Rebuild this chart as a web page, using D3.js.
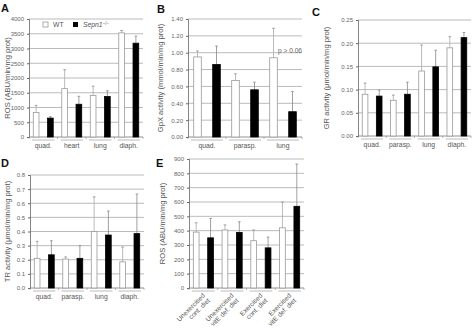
<!DOCTYPE html>
<html>
<head>
<meta charset="utf-8">
<script src="https://cdn.jsdelivr.net/npm/d3@7"></script>
<style>
  body { margin: 0; background: #fff; }
  svg { font-family: "Liberation Sans", Arial, sans-serif; }
</style>
</head>
<body>
<div id="container"></div>
<script>
let w = 472;
let h = 335;

// data
let groupsA = ["quad.", "heart", "lung", "diaph."];
let wtA = [830, 1640, 1410, 3530];
let wtErrA = [240, 640, 310, 80];
let koA = [640, 1110, 1370, 3180];
let koErrA = [50, 270, 200, 240];
let ticksA = [0, 500, 1000, 1500, 2000, 2500, 3000, 3500, 4000];

let groupsB = ["quad.", "parasp.", "lung"];
let wtB = [0.95, 0.67, 0.94];
let wtErrB = [0.07, 0.08, 0.35];
let koB = [0.86, 0.56, 0.30];
let koErrB = [0.22, 0.09, 0.24];
let ticksB = [0, 0.2, 0.4, 0.6, 0.8, 1.0, 1.2, 1.4];

let groupsC = ["quad.", "parasp.", "lung", "diaph."];
let wtC = [0.090, 0.077, 0.140, 0.190];
let wtErrC = [0.024, 0.011, 0.056, 0.024];
let koC = [0.086, 0.090, 0.149, 0.212];
let koErrC = [0.013, 0.026, 0.036, 0.011];
let ticksC = [0, 0.05, 0.10, 0.15, 0.20, 0.25];

let groupsD = ["quad.", "parasp.", "lung", "diaph."];
let wtD = [0.21, 0.205, 0.40, 0.185];
let wtErrD = [0.12, 0.015, 0.245, 0.105];
let koD = [0.235, 0.21, 0.375, 0.385];
let koErrD = [0.10, 0.09, 0.17, 0.28];
let ticksD = [0, 0.1, 0.2, 0.3, 0.4, 0.5, 0.6, 0.7, 0.8];

let groupsE = [["Unexercised", "cont. diet"], ["Unexercised", "vitE def. diet"], ["Exercised", "cont. diet"], ["Exercised", "vitE def. diet"]];
let wtE = [390, 405, 330, 420];
let wtErrE = [65, 35, 75, 180];
let koE = [350, 388, 280, 570];
let koErrE = [135, 74, 75, 295];
let ticksE = [0, 100, 200, 300, 400, 500, 600, 700, 800, 900];

let svg = d3.select("#container").append("svg")
    .attr("width", w)
    .attr("height", h);

function drawPanel(p) {
    let g = svg.append("g");
    let n = p.groups.length;
    let x = d3.scaleBand().domain(d3.range(n)).range([p.x0, p.x1]);
    let inner = d3.scaleBand().domain(["WT", "KO"]).range([0, x.bandwidth()])
        .paddingInner(0.6).paddingOuter(0.3);
    let y = d3.scaleLinear().domain([0, p.max]).range([p.yb, p.yt]);

    // gridlines
    g.selectAll(".grid").data(p.ticks).enter().append("line")
        .attr("x1", p.x0).attr("x2", p.x1)
        .attr("y1", d => y(d)).attr("y2", d => y(d))
        .attr("stroke", d => d === 0 ? "#777" : "#aaa")
        .attr("stroke-width", 0.8);

    // y axis
    let axis = g.append("g").attr("transform", `translate(${p.x0},0)`)
        .call(d3.axisLeft(y).tickValues(p.ticks).tickFormat(d3.format(p.fmt)).tickSize(2).tickPadding(3));
    axis.select(".domain").attr("stroke", "#666").attr("stroke-width", 0.8);
    axis.selectAll(".tick line").attr("stroke", "#666");
    axis.selectAll("text").attr("fill", "#666").style("font-size", "6px").style("font-family", "Liberation Sans, Arial");

    // y title
    g.append("text")
        .attr("transform", `translate(${p.tx},${(p.yt + p.yb) / 2}) rotate(-90)`)
        .attr("text-anchor", "middle")
        .attr("fill", "#555")
        .style("font-size", "7.6px")
        .text(p.title);

    // panel letter
    g.append("text").attr("x", p.lx).attr("y", p.ly)
        .style("font-size", "11px").style("font-weight", "bold")
        .attr("fill", "#111").text(p.letter);

    // bars
    let rows = [];
    p.groups.forEach((gr, i) => {
        rows.push({ i: i, s: "WT", v: p.wt[i], e: p.wtErr[i] });
        rows.push({ i: i, s: "KO", v: p.ko[i], e: p.koErr[i] });
    });

    // error bars (upward only)
    g.selectAll(".err").data(rows).enter().append("line")
        .attr("x1", d => x(d.i) + inner(d.s) + inner.bandwidth() / 2)
        .attr("x2", d => x(d.i) + inner(d.s) + inner.bandwidth() / 2)
        .attr("y1", d => y(d.v)).attr("y2", d => y(d.v + d.e))
        .attr("stroke", d => d.s === "WT" ? "#aaa" : "#888").attr("stroke-width", 0.8);
    g.selectAll(".cap").data(rows).enter().append("line")
        .attr("x1", d => x(d.i) + inner(d.s) + inner.bandwidth() / 2 - 1.3)
        .attr("x2", d => x(d.i) + inner(d.s) + inner.bandwidth() / 2 + 1.3)
        .attr("y1", d => y(d.v + d.e)).attr("y2", d => y(d.v + d.e))
        .attr("stroke", "#888").attr("stroke-width", 0.8);

    g.selectAll(".bar").data(rows).enter().append("rect")
        .attr("x", d => x(d.i) + inner(d.s))
        .attr("width", inner.bandwidth())
        .attr("y", d => y(d.v))
        .attr("height", d => y(0) - y(d.v))
        .attr("fill", d => d.s === "WT" ? "#fff" : "#000")
        .attr("stroke", d => d.s === "WT" ? "#999" : "#000")
        .attr("stroke-width", 0.8);

    // group underlines and boundary ticks
    g.selectAll(".under").data(d3.range(n)).enter().append("line")
        .attr("x1", i => x(i) + 3).attr("x2", i => x(i) + x.bandwidth() - 3)
        .attr("y1", p.yb + 3).attr("y2", p.yb + 3)
        .attr("stroke", "#aaa").attr("stroke-width", 0.8);
    g.selectAll(".btick").data(d3.range(n + 1)).enter().append("line")
        .attr("x1", i => p.x0 + i * x.step()).attr("x2", i => p.x0 + i * x.step())
        .attr("y1", p.yb).attr("y2", p.yb + 2)
        .attr("stroke", "#888").attr("stroke-width", 0.6);

    // group labels
    if (p.rotated) {
        let lab = g.selectAll(".glab").data(p.groups).enter().append("text")
            .attr("transform", (d, i) => `translate(${x(i) + x.bandwidth() / 2 + 2},${p.yb + 8}) rotate(-45)`)
            .attr("text-anchor", "end")
            .attr("fill", "#555")
            .style("font-size", "6.6px");
        lab.append("tspan").attr("x", 0).attr("dy", 0).text(d => d[0]);
        lab.append("tspan").attr("x", 0).attr("dy", "1.05em").text(d => d[1]);
    } else {
        g.selectAll(".glab").data(p.groups).enter().append("text")
            .attr("x", (d, i) => x(i) + x.bandwidth() / 2 + (p.labShift ? p.labShift[i] : 0))
            .attr("y", p.yb + 11)
            .attr("text-anchor", "middle")
            .attr("fill", "#555")
            .style("font-size", "6.8px")
            .text(d => d);
    }
    return { g: g, x: x, y: y };
}

let pA = drawPanel({ groups: groupsA, wt: wtA, wtErr: wtErrA, ko: koA, koErr: koErrA,
    ticks: ticksA, max: 4000, fmt: "d", x0: 29, x1: 143, yt: 19, yb: 137,
    tx: 10, title: "ROS (ABU/min/mg prot)", letter: "A", lx: 1, ly: 12 });

drawPanel({ groups: groupsB, wt: wtB, wtErr: wtErrB, ko: koB, koErr: koErrB,
    ticks: ticksB, max: 1.4, fmt: ".2f", x0: 188, x1: 302, yt: 19, yb: 137,
    tx: 163, title: "GpX activity (mmol/min/mg prot)", letter: "B", lx: 157, ly: 13 });

drawPanel({ groups: groupsC, wt: wtC, wtErr: wtErrC, ko: koC, koErr: koErrC,
    ticks: ticksC, max: 0.25, fmt: ".2f", x0: 358, x1: 471, yt: 20, yb: 136,
    tx: 329, title: "GR activity (μmol/min/mg prot)", letter: "C", lx: 312, ly: 16 });

drawPanel({ groups: groupsD, wt: wtD, wtErr: wtErrD, ko: koD, koErr: koErrD,
    ticks: ticksD, max: 0.8, fmt: ".1f", x0: 30, x1: 144, yt: 175, yb: 288,
    tx: 10, title: "TR activity (μmol/min/mg prot)", letter: "D", lx: 1, ly: 167 });

drawPanel({ groups: groupsE, wt: wtE, wtErr: wtErrE, ko: koE, koErr: koErrE,
    ticks: ticksE, max: 900, fmt: "d", x0: 189, x1: 304, yt: 159, yb: 288,
    tx: 165, title: "ROS (ABU/min/mg prot)", letter: "E", lx: 156, ly: 167, rotated: true });

// p value note in B
svg.append("text").attr("x", 302).attr("y", 53)
    .attr("text-anchor", "end").attr("fill", "#666")
    .style("font-size", "6.6px").text("p > 0.06");

// legend in A
let leg = svg.append("g").attr("transform", "translate(43,22)");
leg.append("rect").attr("width", 5).attr("height", 5).attr("fill", "#fff").attr("stroke", "#999").attr("stroke-width", 0.8);
leg.append("text").attr("x", 10).attr("y", 5).attr("fill", "#555").style("font-size", "6.8px").text("WT");
leg.append("rect").attr("x", 30).attr("width", 5).attr("height", 5).attr("fill", "#000");
let kt = leg.append("text").attr("x", 40).attr("y", 5).attr("fill", "#555").style("font-size", "6.8px");
kt.append("tspan").style("font-style", "italic").text("Sepn1");
kt.append("tspan").attr("dy", -2.5).style("font-size", "4.5px").text("−/−");
</script>
</body>
</html>
